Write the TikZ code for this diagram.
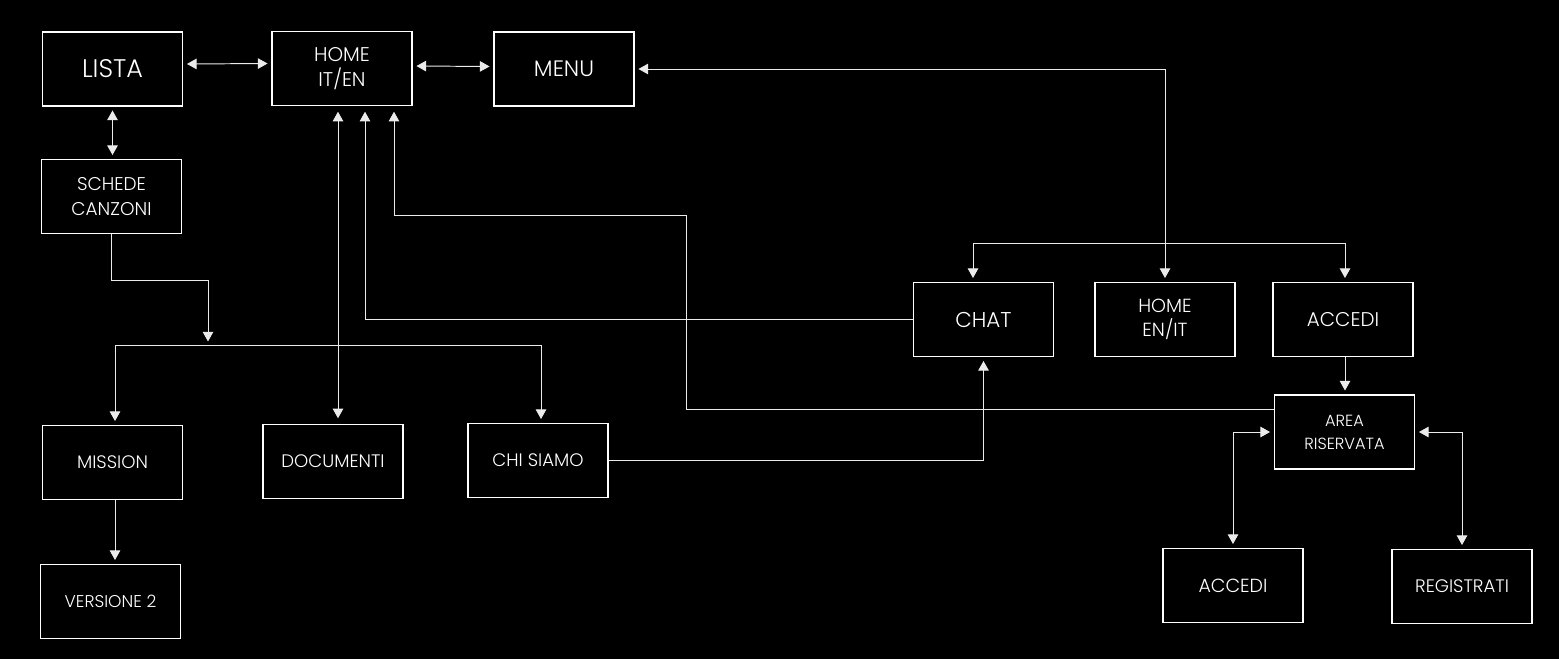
\documentclass[tikz,border=0pt]{standalone}
\usepackage{fontspec}
\setmainfont{Poppins}[UprightFont=* Light]
\usetikzlibrary{arrows.meta}
\tikzset{
    page-box/.style = {draw=white, line width=1.1pt, rectangle, minimum width=2.8cm, minimum height=1.48cm, inner sep=0pt, text=white, align=center, font=\fontsize{10.3}{14}\selectfont},
    link/.style = {draw=white!92!black, line width=0.55pt},
    link-to/.style = {link, -{Triangle[length=5.5pt,width=6pt]}, shorten >=2pt},
    link-both/.style = {link, {Triangle[length=5.5pt,width=6pt]}-{Triangle[length=5.5pt,width=6pt]}, shorten >=2pt, shorten <=2pt},
}
\begin{document}
\begin{tikzpicture}[x=0.02cm, y=-0.02cm]
\fill[black] (0,0) rectangle (1559,659);

\node[page-box, font=\fontsize{14.5}{17}\selectfont] (lista) at (112.5,69) {LISTA};
\node[page-box, font=\fontsize{11.3}{14}\selectfont] (home-it) at (342,68.5) {HOME\\IT/EN};
\node[page-box, font=\fontsize{12.7}{15}\selectfont] (menu) at (564,69) {MENU};
\node[page-box, font=\fontsize{10.5}{14}\selectfont] (schede) at (111.5,196.5) {SCHEDE\\CANZONI};
\node[page-box] (mission) at (112.5,462.5) {MISSION};
\node[page-box, font=\fontsize{9.7}{13}\selectfont] (versione) at (110.5,601.5) {VERSIONE 2};
\node[page-box] (documenti) at (333,461.5) {DOCUMENTI};
\node[page-box] (chi-siamo) at (538,460.5) {CHI SIAMO};
\node[page-box, font=\fontsize{12.2}{15}\selectfont] (chat) at (983.5,319.5) {CHAT};
\node[page-box, font=\fontsize{10.8}{14}\selectfont] (home-en) at (1165,319.5) {HOME\\EN/IT};
\node[page-box, font=\fontsize{11.3}{14}\selectfont] (accedi) at (1343,319.5) {ACCEDI};
\node[page-box, font=\fontsize{9.2}{13}\selectfont] (area) at (1344.5,432) {AREA\\RISERVATA};
\node[page-box, font=\fontsize{10.8}{14}\selectfont] (accedi-login) at (1233,585.5) {ACCEDI};
\node[page-box] (registrati) at (1462,586.5) {REGISTRATI};

\coordinate (split) at (208,345);
\coordinate (split-l) at (115,345);
\coordinate (split-r) at (541,345);
\coordinate (fork-l) at (973,243);
\coordinate (fork-r) at (1345,243);
\coordinate (bend) at (686,215);

\draw[link-both] ([yshift=0.1cm]lista.east) -- ([yshift=0.1cm]home-it.west);
\draw[link-both] ([yshift=0.05cm]home-it.east) -- ([yshift=0.05cm]menu.west);
\draw[link-both] (menu.east) -| (home-en.north);
\draw[link-both] (lista.south) -- (lista.south |- schede.north);

\draw[link-to] (schede.south) -- ++(0,46) -| (split);
\draw[link] (split-l) -- (split-r);
\draw[link-to] (split-l) -- (split-l |- mission.north);
\draw[link-to] (split-r) -- (split-r |- chi-siamo.north);
\draw[link-to] (split-l |- mission.south) -- (split-l |- versione.north);

\draw[link-both, shorten >=3pt, shorten <=3pt] ([xshift=-0.08cm]home-it.south) -- ([xshift=-0.08cm]home-it.south |- documenti.north);
\draw[link-to, shorten >=3pt] (chat.west) -| ([xshift=0.46cm]home-it.south);
\draw[link-to, shorten >=3pt] ([yshift=0.46cm]area.west) -| (bend) -| ([xshift=1.04cm]home-it.south);
\draw[link-to] (chi-siamo.east) -| (chat.south);

\draw[link] (fork-l) -- (fork-r);
\draw[link-to] (fork-l) -- (fork-l |- chat.north);
\draw[link-to] (fork-r) -- (fork-r |- accedi.north);
\draw[link-to] (fork-r |- accedi.south) -- (fork-r |- area.north);
\draw[link-both] (area.west) -| (accedi-login.north);
\draw[link-both] (area.east) -| (registrati.north);
\end{tikzpicture}
\end{document}
